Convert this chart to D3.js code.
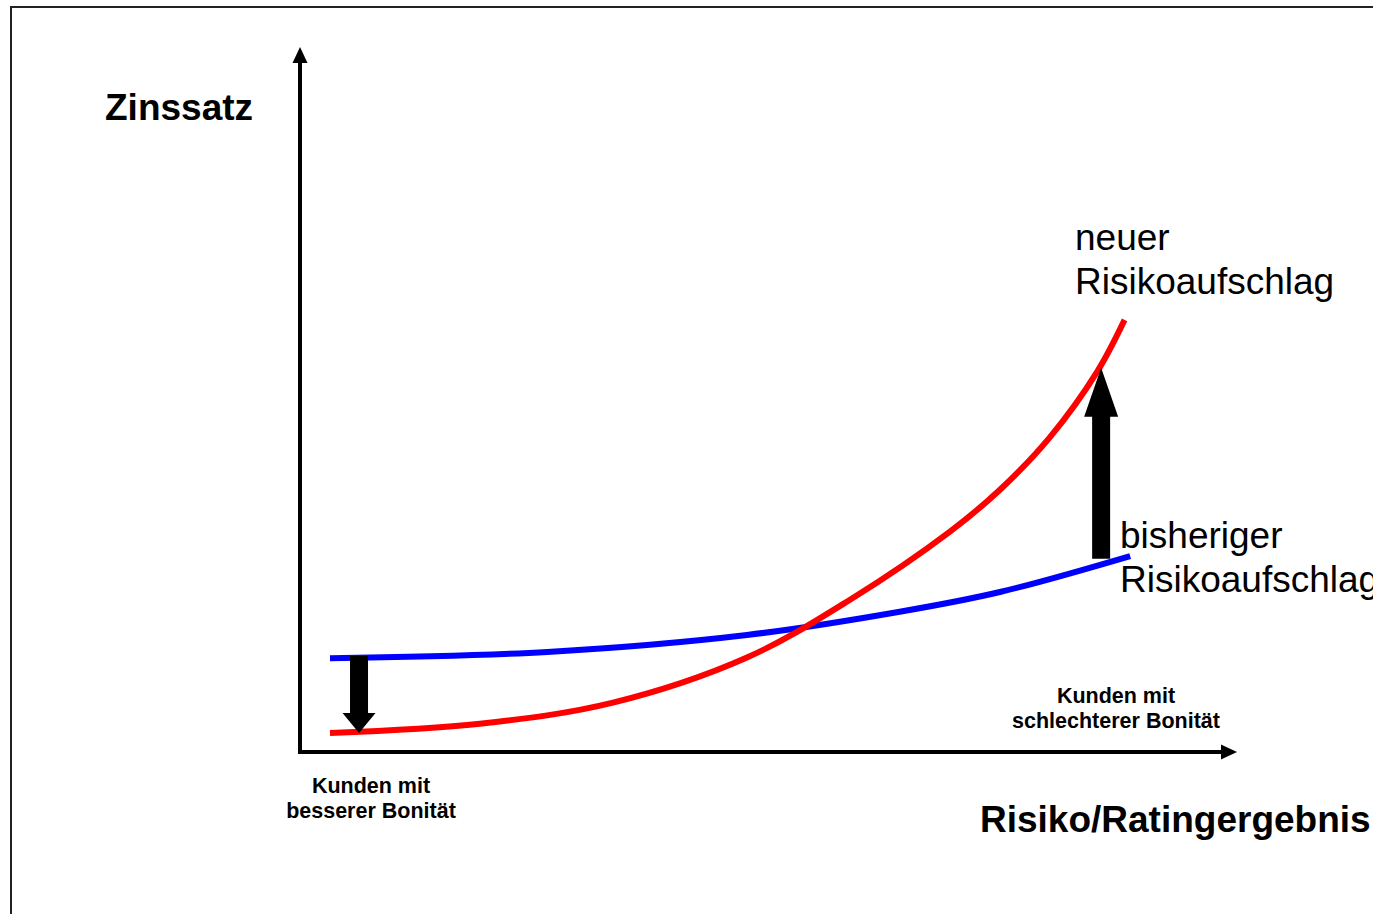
<!DOCTYPE html>
<html>
<head>
<meta charset="utf-8">
<script src="https://cdn.jsdelivr.net/npm/d3@7"></script>
<style>
  html, body { margin: 0; padding: 0; background: #fff; overflow: hidden; }
  svg { display: block; font-family: "Liberation Sans", Arial, sans-serif; }
</style>
</head>
<body>
<svg width="1373" height="914"></svg>
<script>
// risk (0..100) vs. interest rate (0..100)
var riskBlue = [3.2, 26.4, 47.7, 64.0, 74.7, 88.6],
    rateBlue = [13.3, 14.2, 16.6, 19.9, 22.7, 27.8],
    riskRed = [3.2, 19.2, 33.4, 47.7, 58.7, 69.4, 74.7, 80.0, 85.1, 88.0],
    rateRed = [2.7, 4.0, 7.0, 13.4, 21.6, 31.3, 37.2, 44.6, 54.0, 61.3],
    // shift arrows: [risk, from rate, to rate]
    shiftDown = [6.3, 13.6, 2.7],
    shiftUp = [85.5, 27.4, 54.5],
    axisTitles = ["Zinssatz", "Risiko/Ratingergebnis"],
    curveLabels = [["neuer", "Risikoaufschlag"], ["bisheriger", "Risikoaufschlag"]],
    endLabels = [["Kunden mit", "besserer Bonität"], ["Kunden mit", "schlechterer Bonität"]];

(function(d3) {
    "use strict";

    var svg = d3.select("svg"),
        x = d3.scaleLinear().domain([0, 100]).range([300, 1237]),
        y = d3.scaleLinear().domain([0, 100]).range([752, 47]),
        line = d3.line().x(function(d) { return x(d[0]); }).y(function(d) { return y(d[1]); }).curve(d3.curveCatmullRom.alpha(0.5));

    // frame (runs off the right and bottom edge)
    svg.append("rect").attr("x", 11).attr("y", 7).attr("width", 1420).attr("height", 960)
        .attr("fill", "none").attr("stroke", "#222").attr("stroke-width", 2);

    // axes
    var x0 = x(0), y0 = y(0), xEnd = x(100), yEnd = y(100);
    svg.append("path").attr("d", "M" + x0 + "," + (yEnd + 14) + "V" + y0 + "H" + (xEnd - 14))
        .attr("fill", "none").attr("stroke", "#000").attr("stroke-width", 4).attr("stroke-linejoin", "miter");
    svg.append("path").attr("d", "M" + x0 + "," + yEnd + "l-7.5,16h15z").attr("fill", "#000");
    svg.append("path").attr("d", "M" + xEnd + "," + y0 + "l-16,-7.5v15z").attr("fill", "#000");

    // curves
    svg.append("path").datum(d3.zip(riskBlue, rateBlue)).attr("d", line)
        .attr("fill", "none").attr("stroke", "#0000ff").attr("stroke-width", 6);
    svg.append("path").datum(d3.zip(riskRed, rateRed)).attr("d", line)
        .attr("fill", "none").attr("stroke", "#ff0000").attr("stroke-width", 6);

    // block arrows
    function blockArrow(a, shaft, head, headLen) {
        var cx = x(a[0]), ys = y(a[1]), ye = y(a[2]), dir = ye > ys ? 1 : -1,
            yb = ye - dir * headLen;
        var p = d3.path();
        p.moveTo(cx - shaft / 2, ys);
        p.lineTo(cx - shaft / 2, yb);
        p.lineTo(cx - head / 2, yb);
        p.lineTo(cx, ye);
        p.lineTo(cx + head / 2, yb);
        p.lineTo(cx + shaft / 2, yb);
        p.lineTo(cx + shaft / 2, ys);
        p.closePath();
        svg.append("path").attr("d", p.toString()).attr("fill", "#000");
    }
    blockArrow(shiftDown, 18, 33, 20);
    blockArrow(shiftUp, 18, 34, 49);

    // texts
    svg.append("text").attr("x", 105).attr("y", 120).attr("font-size", 37).attr("font-weight", "bold")
        .text(axisTitles[0]);
    svg.append("text").attr("x", 980).attr("y", 832).attr("font-size", 37).attr("font-weight", "bold")
        .text(axisTitles[1]);

    function multi(lines, px, py, size, weight, anchor, gap) {
        var t = svg.append("text").attr("font-size", size).attr("font-weight", weight).attr("text-anchor", anchor);
        lines.forEach(function(s, i) {
            t.append("tspan").attr("x", px).attr("y", py + i * gap).text(s);
        });
    }
    multi(curveLabels[0], 1075, 250, 37, "normal", "start", 44);
    multi(curveLabels[1], 1120, 548, 37, "normal", "start", 44);
    multi(endLabels[0], 371, 793, 21.5, "bold", "middle", 25);
    multi(endLabels[1], 1116, 703, 21.5, "bold", "middle", 25);

}(d3));
</script>
</body>
</html>
